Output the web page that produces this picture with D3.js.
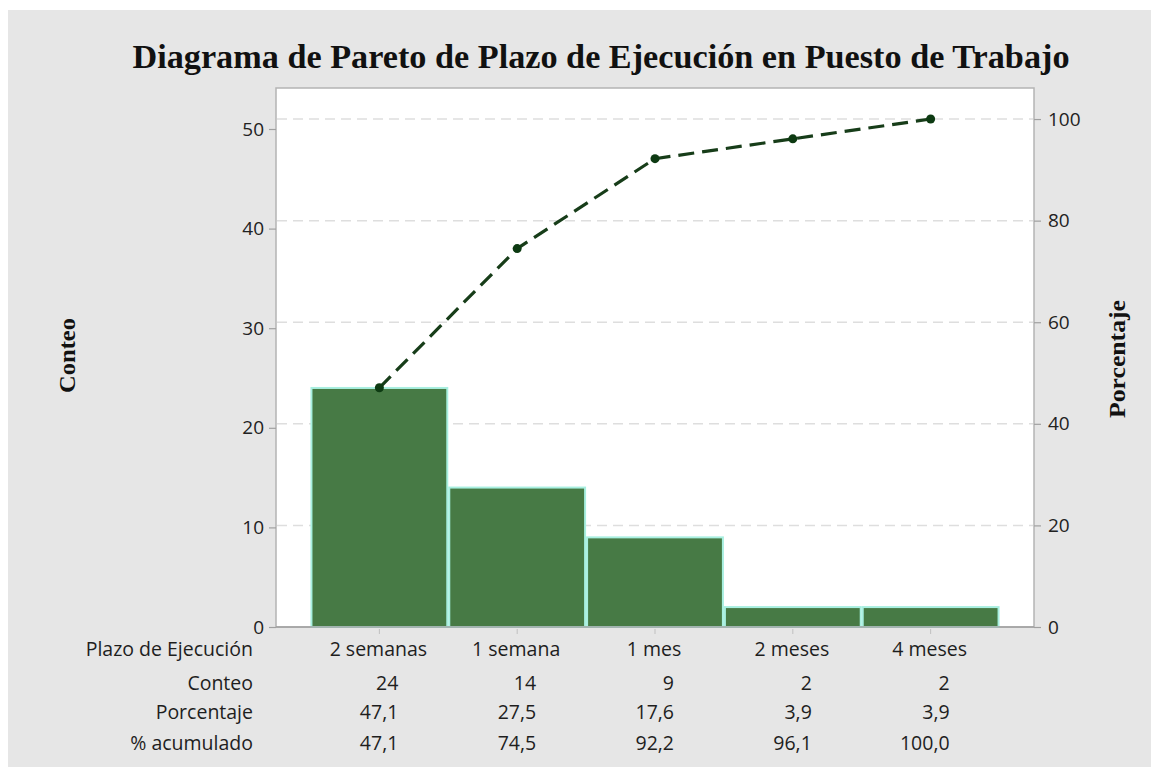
<!DOCTYPE html>
<html><head><meta charset="utf-8">
<script src="https://cdn.jsdelivr.net/npm/d3@7"></script>
<style>body{margin:0;background:#fff}svg{display:block}</style>
</head><body>
<svg id="c" width="1151" height="771"></svg>
<script>
const categories = ["2 semanas","1 semana","1 mes","2 meses","4 meses"];
const counts = [24,14,9,2,2];
const percents = ["47,1","27,5","17,6","3,9","3,9"];
const cumulative = [47.1,74.5,92.2,96.1,100.0];
const cumulativeLabels = ["47,1","74,5","92,2","96,1","100,0"];
const leftTicks = [0,10,20,30,40,50];
const rightTicks = [0,20,40,60,80,100];
const rowLabels = ["Plazo de Ejecución","Conteo","Porcentaje","% acumulado"];

const svg = d3.select("#c");
const L=276, R=1034, T=88, B=627;
const total = d3.sum(counts);
const yCount = d3.scaleLinear().domain([0,50]).range([B,B-498]);
const yPct = d3.scaleLinear().domain([0,100]).range([B, yCount(total)]);
const x = d3.scaleBand().domain(categories).range([L,R]).paddingInner(0).paddingOuter(0.25);

svg.append("rect").attr("x",8).attr("y",10).attr("width",1143).attr("height",757).attr("fill","#e6e6e6");
svg.append("rect").attr("x",L).attr("y",T).attr("width",R-L).attr("height",B-T).attr("fill","#fff").attr("stroke","#b4b4b4").attr("stroke-width",1.5);

// gridlines
svg.append("g").selectAll("line").data(rightTicks.filter(d=>d>0)).join("line")
  .attr("x1",L+1).attr("x2",R-1).attr("y1",d=>yPct(d)).attr("y2",d=>yPct(d))
  .attr("stroke","#dedede").attr("stroke-width",1.5).attr("stroke-dasharray","10,6");

// bars
svg.append("g").selectAll("rect").data(categories).join("rect")
  .attr("x",d=>x(d)+1).attr("width",x.bandwidth()-2)
  .attr("y",(d,i)=>yCount(counts[i])).attr("height",(d,i)=>B-yCount(counts[i]))
  .attr("fill","#477a45").attr("stroke","#a8efe0").attr("stroke-width",2);

// bottom axis line
svg.append("line").attr("x1",L).attr("x2",R).attr("y1",B).attr("y2",B).attr("stroke","#a0a0a0").attr("stroke-width",1.5);

// axes
const tickFont = "'Open Sans', 'Noto Sans', sans-serif";
const ax1 = svg.append("g").attr("transform",`translate(${L},0)`).call(d3.axisLeft(yCount).tickValues(leftTicks).tickSize(7).tickPadding(5));
const ax2 = svg.append("g").attr("transform",`translate(${R},0)`).call(d3.axisRight(yPct).tickValues(rightTicks).tickSize(7).tickPadding(7));
[ax1,ax2].forEach(a=>{
  a.select(".domain").remove();
  a.selectAll(".tick line").attr("stroke","#a0a0a0").attr("stroke-width",1.2);
  a.selectAll(".tick text").attr("fill","#222").style("font-family",tickFont).style("font-size","19px");
});
const ax3 = svg.append("g").attr("transform",`translate(0,${B})`).call(d3.axisBottom(x).tickSize(6).tickFormat(""));
ax3.select(".domain").remove();
ax3.selectAll(".tick line").attr("stroke","#c0c0c0").attr("y1",2).attr("y2",7);

// cumulative line
const line = d3.line().x((d,i)=>x(categories[i])+x.bandwidth()/2).y(d=>yPct(d));
svg.append("path").datum(cumulative).attr("d",line).attr("fill","none")
  .attr("stroke","#173d19").attr("stroke-width",3.2).attr("stroke-dasharray","16,8");
svg.append("g").selectAll("circle").data(cumulative).join("circle")
  .attr("cx",(d,i)=>x(categories[i])+x.bandwidth()/2).attr("cy",d=>yPct(d)).attr("r",4.5).attr("fill","#0d3a12");

// title
svg.append("text").attr("x",601).attr("y",68).attr("text-anchor","middle")
  .attr("textLength",937).attr("lengthAdjust","spacingAndGlyphs")
  .style("font-family","'Liberation Serif','Times New Roman',serif").style("font-weight","bold").style("font-size","33px").attr("fill","#111")
  .text("Diagrama de Pareto de Plazo de Ejecución en Puesto de Trabajo");

// axis titles
svg.append("text").attr("transform","translate(75,355.5) rotate(-90)").attr("text-anchor","middle")
  .attr("textLength",75).attr("lengthAdjust","spacingAndGlyphs")
  .style("font-family","'Liberation Serif',serif").style("font-weight","bold").style("font-size","24px").attr("fill","#111").text("Conteo");
svg.append("text").attr("transform","translate(1125,359) rotate(-90)").attr("text-anchor","middle")
  .attr("textLength",118).attr("lengthAdjust","spacingAndGlyphs")
  .style("font-family","'Liberation Serif',serif").style("font-weight","bold").style("font-size","24px").attr("fill","#111").text("Porcentaje");

// table
const rowsY = [656,690,719,750];
const tf = "'Open Sans','Noto Sans',sans-serif";
const fs = "19.5px";
svg.append("g").selectAll("text").data(rowLabels).join("text")
  .attr("x",253).attr("y",(d,i)=>rowsY[i]).attr("text-anchor","end")
  .style("font-family",tf).style("font-size",fs).attr("fill","#1e1e1e").text(d=>d);
svg.append("g").selectAll("text").data(categories).join("text")
  .attr("x",d=>x(d)+x.bandwidth()/2-1).attr("y",rowsY[0]).attr("text-anchor","middle")
  .style("font-family",tf).style("font-size",fs).attr("fill","#1e1e1e").text(d=>d);
const rows = [counts.map(String), percents, cumulativeLabels];
rows.forEach((r,ri)=>{
  svg.append("g").selectAll("text").data(r).join("text")
    .attr("x",(d,i)=>x(categories[i])+x.bandwidth()/2+19).attr("y",rowsY[ri+1]).attr("text-anchor","end")
    .style("font-family",tf).style("font-size",fs).attr("fill","#1e1e1e").text(d=>d);
});
</script>
</body></html>
